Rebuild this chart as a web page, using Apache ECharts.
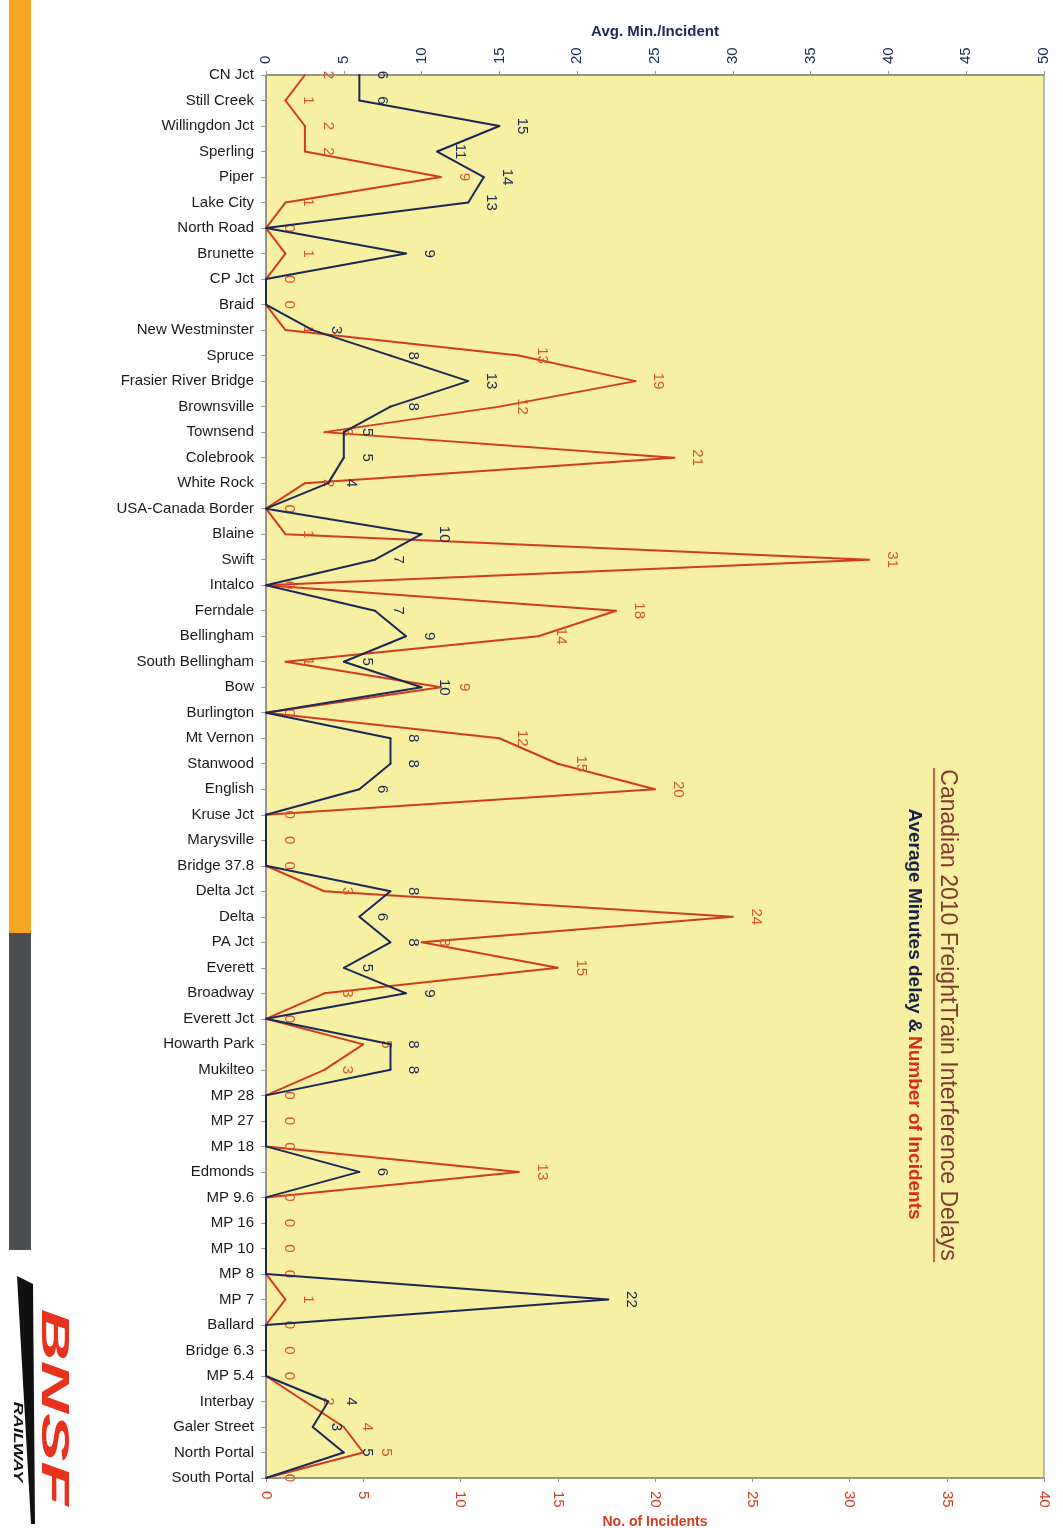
<!DOCTYPE html>
<html>
<head>
<meta charset="utf-8">
<title>Canadian 2010 Freight Train Interference Delays</title>
<script src="https://cdn.jsdelivr.net/npm/echarts@6/dist/echarts.min.js"></script>
<style>
  html, body { margin: 0; padding: 0; background: #ffffff; }
  #chart { width: 1063px; height: 1528px; }
</style>
</head>
<body>
<div id="chart"></div>
<script>
// Stations along the line, north to south
const stations = [
  'CN Jct', 'Still Creek', 'Willingdon Jct', 'Sperling', 'Piper', 'Lake City',
  'North Road', 'Brunette', 'CP Jct', 'Braid', 'New Westminster', 'Spruce',
  'Frasier River Bridge', 'Brownsville', 'Townsend', 'Colebrook', 'White Rock',
  'USA-Canada Border', 'Blaine', 'Swift', 'Intalco', 'Ferndale', 'Bellingham',
  'South Bellingham', 'Bow', 'Burlington', 'Mt Vernon', 'Stanwood', 'English',
  'Kruse Jct', 'Marysville', 'Bridge 37.8', 'Delta Jct', 'Delta', 'PA Jct',
  'Everett', 'Broadway', 'Everett Jct', 'Howarth Park', 'Mukilteo', 'MP 28',
  'MP 27', 'MP 18', 'Edmonds', 'MP 9.6', 'MP 16', 'MP 10', 'MP 8', 'MP 7',
  'Ballard', 'Bridge 6.3', 'MP 5.4', 'Interbay', 'Galer Street', 'North Portal',
  'South Portal'
];

// Average minutes of delay per incident (top axis)
const avgMinutes = [
  6, 6, 15, 11, 14, 13,
  0, 9, 0, 0, 3, 8,
  13, 8, 5, 5, 4,
  0, 10, 7, 0, 7, 9,
  5, 10, 0, 8, 8, 6,
  0, 0, 0, 8, 6, 8,
  5, 9, 0, 8, 8, 0,
  0, 0, 6, 0, 0, 0, 0, 22,
  0, 0, 0, 4, 3, 5,
  0
];

// Number of incidents (bottom axis)
const incidents = [
  2, 1, 2, 2, 9, 1,
  0, 1, 0, 0, 1, 13,
  19, 12, 3, 21, 2,
  0, 1, 31, 0, 18, 14,
  1, 9, 0, 12, 15, 20,
  0, 0, 0, 3, 24, 8,
  15, 3, 0, 5, 3, 0,
  0, 0, 13, 0, 0, 0, 0, 1,
  0, 0, 0, 2, 4, 5,
  0
];

// Axis ranges
const minutesAxis = { min: 0, max: 50, interval: 5 };
const incidentsAxis = { min: 0, max: 40, interval: 5 };

const NAVY = '#1b2858';
const RED = '#d23c1e';
const RED_LABEL = '#d8552c';
const FONT = '"Liberation Sans", Arial, sans-serif';

const chart = echarts.init(document.getElementById('chart'), null, { renderer: 'canvas' });

// Line whose tiny point markers (same colour as the line) carry the value labels
function lineSeries(name, axisIndex, values, color, labelColor, hideZero, z) {
  return {
    name: name,
    type: 'line',
    xAxisIndex: axisIndex,
    data: values,
    showSymbol: true,
    showAllSymbol: true,
    symbol: 'circle',
    symbolSize: 2,
    itemStyle: { color: color },
    lineStyle: { color: color, width: 2 },
    label: {
      show: true, position: 'right', distance: 22, rotate: -90,
      align: 'center', verticalAlign: 'middle',
      color: labelColor, fontSize: 15, fontFamily: FONT,
      formatter: p => (hideZero && p.value === 0 ? '' : String(p.value))
    },
    z: z
  };
}

const option = {
  backgroundColor: '#ffffff',
  animation: false,
  grid: {
    left: 266, right: 19, top: 75, bottom: 50,
    outerBoundsMode: 'none',
    show: true,
    backgroundColor: '#f7efa2',
    borderColor: '#7d7d6a',
    borderWidth: 1
  },
  yAxis: {
    type: 'category',
    data: stations,
    inverse: true,
    boundaryGap: false,
    axisLine: { show: true, lineStyle: { color: '#8a8a80', width: 1.5 } },
    axisTick: { show: true, length: 5, lineStyle: { color: '#9a9a90' } },
    axisLabel: {
      interval: 0, margin: 12,
      color: '#1a1a1a', fontFamily: FONT, fontSize: 15
    },
    splitLine: { show: false }
  },
  xAxis: [
    {
      type: 'value', position: 'top',
      min: minutesAxis.min, max: minutesAxis.max, interval: minutesAxis.interval,
      name: 'Avg. Min./Incident', nameLocation: 'middle', nameGap: 36,
      nameTextStyle: { color: NAVY, fontWeight: 'bold', fontSize: 15, fontFamily: FONT },
      axisLine: { show: true, lineStyle: { color: '#8a8a80', width: 1.5 } },
      axisTick: { show: true, length: 4, lineStyle: { color: '#9a9a90' } },
      axisLabel: { rotate: -90, margin: 11, color: NAVY, fontSize: 15, fontFamily: FONT },
      splitLine: { show: false }
    },
    {
      type: 'value', position: 'bottom',
      min: incidentsAxis.min, max: incidentsAxis.max, interval: incidentsAxis.interval,
      name: 'No. of Incidents', nameLocation: 'middle', nameGap: 35,
      nameTextStyle: { color: RED, fontWeight: 'bold', fontSize: 14, fontFamily: FONT },
      axisLine: { show: true, lineStyle: { color: '#8a8a80', width: 1.5 } },
      axisTick: { show: true, length: 4, lineStyle: { color: '#9a9a90' } },
      axisLabel: { rotate: -90, margin: 13, color: RED, fontSize: 15, fontFamily: FONT },
      splitLine: { show: false }
    }
  ],
  series: [
    lineSeries('Number of Incidents', 1, incidents, RED, RED_LABEL, false, 2),
    lineSeries('Average Minutes delay', 0, avgMinutes, NAVY, NAVY, true, 3)
  ],
  graphic: [
    // side band
    { type: 'rect', shape: { x: 9, y: 0, width: 22, height: 933 }, style: { fill: '#f6a623' } },
    { type: 'rect', shape: { x: 9, y: 933, width: 22, height: 317 }, style: { fill: '#4b4f52' } },
    // railway logo
    {
      type: 'polygon',
      shape: { points: [[17, 1276], [33, 1284], [35, 1524], [31, 1524]] },
      style: { fill: '#111111' }
    },
    {
      type: 'text', x: 52, y: 1407, rotation: -Math.PI / 2, scaleX: 1.9,
      style: {
        text: 'BNSF', font: 'italic 900 38px ' + FONT, fill: '#e8321e',
        textAlign: 'center', textVerticalAlign: 'middle'
      }
    },
    {
      type: 'text', x: 17, y: 1442, rotation: -Math.PI / 2, scaleX: 1.5,
      style: {
        text: 'RAILWAY', font: 'italic bold 12px ' + FONT, fill: '#111111',
        textAlign: 'center', textVerticalAlign: 'middle'
      }
    },
    // chart title
    {
      type: 'text', x: 947, y: 1015, rotation: -Math.PI / 2,
      style: {
        text: 'Canadian 2010 FreightTrain Interference Delays',
        font: '23px ' + FONT, fill: '#7e3a2e',
        textAlign: 'center', textVerticalAlign: 'middle'
      }
    },
    {
      type: 'line', shape: { x1: 934, y1: 768, x2: 934, y2: 1262 },
      style: { stroke: '#b83a28', lineWidth: 1.5 }
    },
    {
      type: 'text', x: 914, y: 1014, rotation: -Math.PI / 2,
      style: {
        text: '{a|Average Minutes delay &} {b|Number of Incidents}',
        textAlign: 'center', textVerticalAlign: 'middle',
        rich: {
          a: { font: 'bold 19px ' + FONT, fill: '#1a1f4a', color: '#1a1f4a' },
          b: { font: 'bold 19px ' + FONT, fill: '#d62e1a', color: '#d62e1a' }
        }
      }
    }
  ]
};

chart.setOption(option);
</script>
</body>
</html>
